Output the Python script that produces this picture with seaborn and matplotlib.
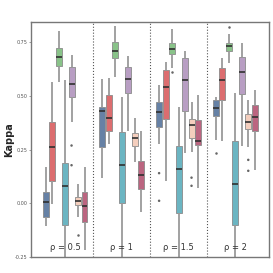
import matplotlib
matplotlib.use('Agg')
import matplotlib.pyplot as plt
import seaborn as sns
import pandas as pd

# groups and methods
groups = ['ρ = 0.5', 'ρ = 1', 'ρ = 1.5', 'ρ = 2']
methods = ['m1', 'm2', 'm3', 'm4', 'm5', 'm6', 'm7']
palette = ['#5b80b0', '#ef5a5d', '#7fcd7f', '#5cbfd1', '#ba98c9', '#fdcab4', '#c9577a']

# five-number summaries: low whisker, q1, median, q3, high whisker
rho05 = [
    [-0.109, -0.067, 0.007, 0.053, 0.171],
    [-0.003, 0.105, 0.261, 0.379, 0.567],
    [0.567, 0.640, 0.681, 0.726, 0.804],
    [-0.300, -0.100, 0.082, 0.189, 0.575],
    [0.378, 0.497, 0.555, 0.637, 0.692],
    [-0.065, -0.009, 0.011, 0.031, 0.089],
    [-0.221, -0.089, -0.014, 0.051, 0.169],
]
rho1 = [
    [0.119, 0.261, 0.431, 0.451, 0.581],
    [0.277, 0.339, 0.396, 0.505, 0.586],
    [0.588, 0.676, 0.712, 0.751, 0.827],
    [-0.300, 0.003, 0.179, 0.334, 0.497],
    [0.337, 0.513, 0.580, 0.637, 0.686],
    [0.194, 0.267, 0.303, 0.326, 0.396],
    [-0.042, 0.065, 0.132, 0.197, 0.337],
]
rho15 = [
    [0.275, 0.357, 0.424, 0.474, 0.552],
    [0.105, 0.393, 0.541, 0.622, 0.658],
    [0.630, 0.696, 0.720, 0.746, 0.813],
    [-0.300, -0.044, 0.159, 0.267, 0.451],
    [0.233, 0.432, 0.575, 0.676, 0.712],
    [0.241, 0.303, 0.365, 0.392, 0.474],
    [0.070, 0.272, 0.292, 0.389, 0.505],
]
rho2 = [
    [0.295, 0.407, 0.443, 0.482, 0.497],
    [0.290, 0.482, 0.575, 0.630, 0.676],
    [0.653, 0.710, 0.734, 0.749, 0.788],
    [-0.300, -0.104, 0.090, 0.291, 0.513],
    [0.269, 0.510, 0.611, 0.681, 0.749],
    [0.264, 0.345, 0.381, 0.417, 0.481],
    [0.155, 0.339, 0.401, 0.458, 0.528],
]
summaries = [rho05, rho1, rho15, rho2]

# outliers: (group, method, value)
out_group = ['ρ = 0.5', 'ρ = 0.5', 'ρ = 0.5', 'ρ = 1.5', 'ρ = 1.5', 'ρ = 1.5', 'ρ = 1.5', 'ρ = 1.5',
             'ρ = 2', 'ρ = 2', 'ρ = 2', 'ρ = 2']
out_method = ['m5', 'm5', 'm6', 'm1', 'm1', 'm3', 'm6', 'm6', 'm1', 'm3', 'm6', 'm6']
out_value = [0.269, 0.177, -0.151, 0.140, 0.011, 0.612, 0.119, 0.081, 0.233, 0.821, 0.202, 0.151]

rows = []
for g, summ in zip(groups, summaries):
    for m, vals in zip(methods, summ):
        for v in vals:
            rows.append((g, m, v))
df = pd.DataFrame(rows, columns=['rho', 'method', 'Kappa'])
outl = pd.DataFrame({'rho': out_group, 'method': out_method, 'Kappa': out_value})

sns.set_theme(style='white')
fig = plt.figure(figsize=(2.73, 2.73), dpi=100)
ax = fig.add_axes([0.1136, 0.0597, 0.873, 0.8608])

sns.boxplot(data=df, x='rho', y='Kappa', hue='method', order=groups, hue_order=methods,
            palette=palette, whis=(0, 100), width=0.8, gap=0.08, showcaps=False,
            linewidth=0.8, linecolor='#5a5a5a', legend=False, ax=ax,
            whiskerprops={'color': '#9a9a9a', 'linewidth': 1.3},
            medianprops={'color': '#303030', 'linewidth': 1.2},
            boxprops={'edgecolor': '#8a8a8a', 'linewidth': 0.6})
sns.stripplot(data=outl, x='rho', y='Kappa', hue='method', order=groups, hue_order=methods,
              dodge=True, jitter=False, palette=['#666666'] * 7, size=1.8,
              legend=False, ax=ax)

for xv in [0.5, 1.5, 2.5]:
    ax.axvline(xv, color='#555555', linestyle=':', linewidth=0.8)
for i, g in enumerate(groups):
    ax.text(i, -0.205, g, ha='center', va='center', fontsize=6, color='#333333')

ax.set_xlim(-0.6, 3.6)
ax.set_ylim(-0.25, 0.847)
ax.set_yticks([-0.25, 0.0, 0.25, 0.5, 0.75])
ax.set_yticklabels(['-0.25', '0.00', '0.25', '0.50', '0.75'])
ax.tick_params(axis='y', labelsize=3.5, labelcolor='#555555', length=1.5, width=0.5,
               color='#777777', pad=1, left=True)
ax.set_xticks([])
ax.set_xlabel('')
ax.set_ylabel('Kappa', fontsize=7, fontweight='bold')
ax.yaxis.set_label_coords(-0.072, 0.5)
for s in ax.spines.values():
    s.set_color('#777777')
    s.set_linewidth(1.0)

plt.savefig('out.png', dpi=100)
